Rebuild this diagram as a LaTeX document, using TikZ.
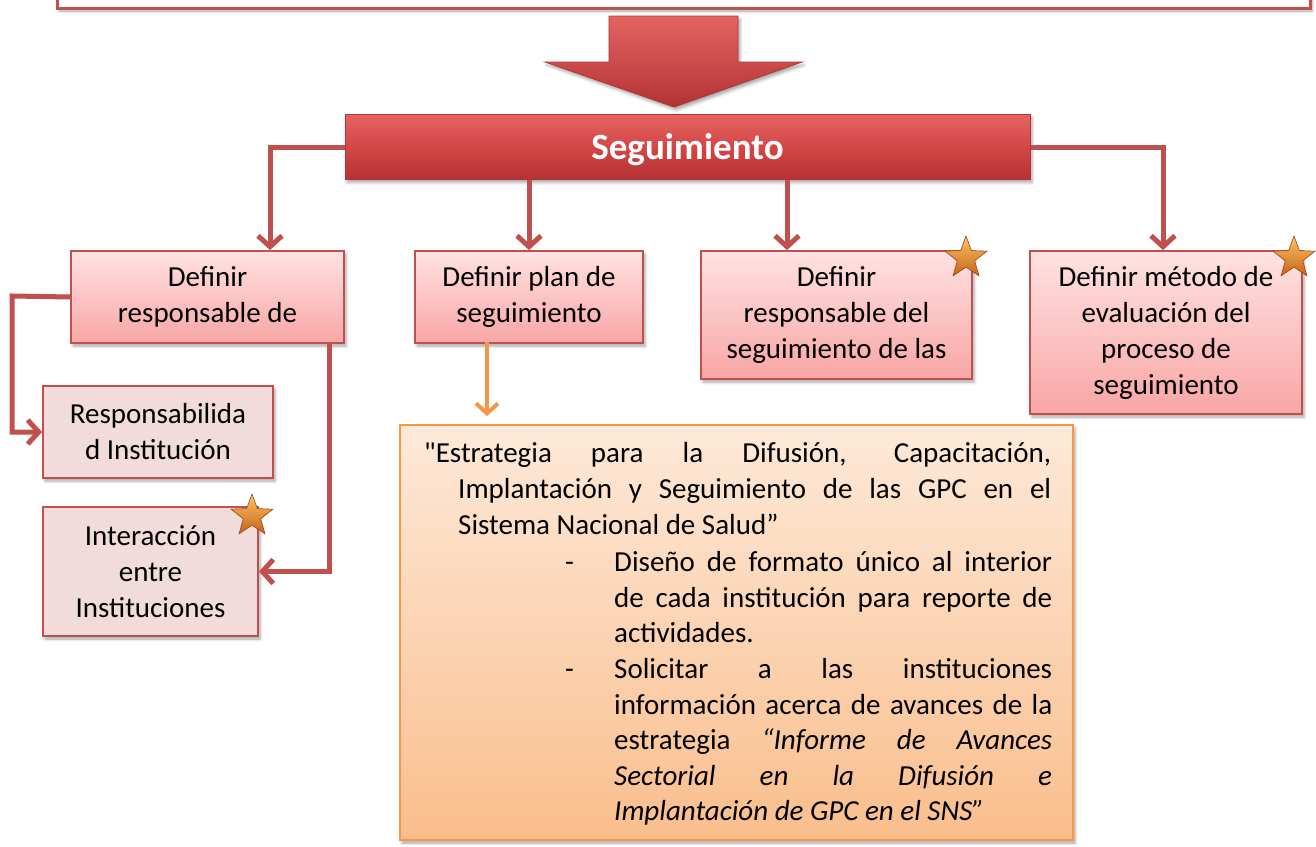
\documentclass[tikz,border=0pt]{standalone}
\usepackage{fontspec}
\setmainfont{Carlito}[Ligatures=TeXOff]
\usetikzlibrary{shapes.geometric,arrows.meta,shadows.blur,calc}
\definecolor{redln}{RGB}{192,80,77}
\definecolor{pinkT}{RGB}{255,226,226}
\definecolor{pinkB}{RGB}{248,166,165}
\definecolor{pinkF}{RGB}{242,220,219}
\definecolor{orgln}{RGB}{247,150,70}
\definecolor{orgT}{RGB}{253,233,217}
\definecolor{orgB}{RGB}{250,190,140}
\definecolor{segT}{RGB}{228,100,98}
\definecolor{segM}{RGB}{212,70,70}
\definecolor{segB}{RGB}{180,50,52}
\definecolor{starT}{RGB}{252,196,100}
\definecolor{starB}{RGB}{200,100,25}
\definecolor{starD}{RGB}{150,70,20}
\begin{document}
\begin{tikzpicture}[x=1pt,y=-1pt,
  txt/.style={font=\fontsize{29}{36}\selectfont, text=black},
  shad/.style={blur shadow={shadow xshift=2pt,shadow yshift=-3pt,shadow blur radius=3pt,shadow opacity=35}},
  lvlbox/.style={draw=redln, line width=1.8pt, top color=pinkT, bottom color=pinkB, inner sep=0pt, align=center, txt, shad},
  subbox/.style={draw=redln, line width=1.8pt, fill=pinkF, inner sep=0pt, align=center, txt, shad},
  conn/.style={draw=redln, line width=5pt, -{Straight Barb[length=11pt,width=24pt]}},
  oconn/.style={draw=orgln, line width=4pt, -{Straight Barb[length=10pt,width=22pt]}},
  starmark/.style={star, star points=5, star point ratio=2.4, minimum size=44pt, inner sep=0pt, top color=starT, bottom color=starB, draw=starD, line width=0.6pt},
  oline/.style={txt, anchor=base west, inner sep=0pt}
]
\useasboundingbox (0,0) rectangle (1316,846);
\clip (0,0) rectangle (1316,846);

% top box
\draw[draw=redln, line width=3pt, fill=white, shad] (57,-30) rectangle (1310,8);

% big arrow
\path[top color=segT, bottom color=segB, draw=segB, line width=0.8pt, shad]
  (609,16) -- (738,16) -- (738,62) -- (802,62) -- (674,107) -- (545,62) -- (609,62) -- cycle;

% Seguimiento
\node[draw=segB, line width=1pt, top color=segT, bottom color=segB, middle color=segM,
  minimum width=685pt, minimum height=65pt, inner sep=0pt, shad] (seg) at (687.5,147) {};
\node[font=\fontsize{37}{44}\selectfont\bfseries, text=white, inner sep=0pt] (segtxt) at (687.5,150) {Seguimiento};

% level boxes
\node[lvlbox, minimum width=273pt, minimum height=92pt] (A) at (207.5,297) {Definir\\responsable de};
\node[lvlbox, minimum width=228pt, minimum height=92pt] (B) at (529,297) {Definir plan de\\seguimiento};
\node[lvlbox, minimum width=271pt, minimum height=128pt] (C) at (836.5,315) {Definir\\responsable del\\seguimiento de las};
\node[lvlbox, minimum width=272pt, minimum height=163pt] (D) at (1166,332.5) {Definir método de\\evaluación del\\proceso de\\seguimiento};

% sub boxes
\node[subbox, minimum width=230pt, minimum height=92pt] (E) at (158,432) {Responsabilida\\d Institución};
\node[subbox, minimum width=215pt, minimum height=129pt] (F) at (150.5,571.5) {Interacción\\entre\\Instituciones};

% stars
\node[starmark] (s1) at (252,516) {};
\node[starmark] (s2) at (966,258) {};
\node[starmark] (s3) at (1294,258) {};

% orange box
\node[draw=orgln, line width=1.8pt, top color=orgT, bottom color=orgB, minimum width=673pt, minimum height=415pt, inner sep=0pt, shad] (O) at (736.5,632.5) {};

\node[oline] (l1) at (424,462) {\makebox[627pt][s]{"Estrategia para la Difusión, Capacitación,}};
\node[oline] (l2) at (458,498) {\makebox[593pt][s]{Implantación y Seguimiento de las GPC en el}};
\node[oline] (l3) at (458,534) {Sistema Nacional de Salud”};
\node[oline] (d1) at (565,571) {-};
\node[oline] (l4) at (614,571) {\makebox[438pt][s]{Diseño de formato único al interior}};
\node[oline] (l5) at (614,607) {\makebox[438pt][s]{de cada institución para reporte de}};
\node[oline] (l6) at (614,642) {actividades.};
\node[oline] (d2) at (565,678) {-};
\node[oline] (l7) at (614,678) {\makebox[438pt][s]{Solicitar a las instituciones}};
\node[oline] (l8) at (614,714) {\makebox[438pt][s]{información acerca de avances de la}};
\node[oline] (l9) at (614,749) {\makebox[438pt][s]{estrategia \itshape “Informe de Avances}};
\node[oline] (l10) at (614,785) {\makebox[438pt][s]{\itshape Sectorial en la Difusión e}};
\node[oline] (l11) at (614,820) {\textit{Implantación de GPC en el SNS”}};

% connectors from Seguimiento
\coordinate (an) at ([xshift=62.5pt]A.north);
\coordinate (cn) at ([xshift=-49.5pt]C.north);
\coordinate (dn) at ([xshift=-3pt]D.north);
\draw[conn] (seg.west) -| (an);
\draw[conn] (seg.south -| B.north) -- (B.north);
\draw[conn] (seg.south -| cn) -- (cn);
\draw[conn] (seg.east) -| (dn);

% left branches
\coordinate (la) at (12,296);
\draw[conn] (A.west) -- (la) |- (E.west);
\coordinate (ra) at (329,342);
\draw[conn] (ra) |- (F.east);

% orange connector
\coordinate (ob) at (487,342);
\draw[oconn, shorten >=8pt] (ob) -- (ob |- O.north);
\end{tikzpicture}
\end{document}
